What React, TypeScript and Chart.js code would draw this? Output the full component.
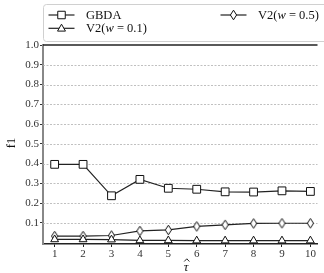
import React, { useEffect, useRef } from 'react';
import { Chart, registerables } from 'chart.js';
Chart.register(...registerables);

const tauHat = [1, 2, 3, 4, 5, 6, 7, 8, 9, 10];
const gbda = [0.396, 0.396, 0.237, 0.32, 0.275, 0.27, 0.257, 0.256, 0.262, 0.259];
const v2w01 = [0.016, 0.016, 0.015, 0.011, 0.011, 0.01, 0.01, 0.01, 0.01, 0.01];
const v2w05 = [0.033, 0.033, 0.036, 0.059, 0.064, 0.082, 0.09, 0.097, 0.098, 0.098];
const yTicks = [0.1, 0.2, 0.3, 0.4, 0.5, 0.6, 0.7, 0.8, 0.9, 1.0];
const xTicks = [1, 2, 3, 4, 5, 6, 7, 8, 9, 10];

const SERIF = '"Liberation Serif", "DejaVu Serif", serif';

function makeDiamond(): HTMLCanvasElement {
  const c = document.createElement('canvas');
  c.width = 9;
  c.height = 12;
  const g = c.getContext('2d')!;
  g.beginPath();
  g.moveTo(4.5, 1.2);
  g.lineTo(7.6, 6);
  g.lineTo(4.5, 10.8);
  g.lineTo(1.4, 6);
  g.closePath();
  g.fillStyle = '#fff';
  g.fill();
  g.lineWidth = 1;
  g.strokeStyle = '#111';
  g.stroke();
  return c;
}

function drawSquare(ctx: CanvasRenderingContext2D, x: number, y: number, s: number) {
  ctx.beginPath();
  ctx.rect(x - s / 2, y - s / 2, s, s);
  ctx.fillStyle = '#fff';
  ctx.fill();
  ctx.stroke();
}
function drawTriangle(ctx: CanvasRenderingContext2D, x: number, y: number, r: number) {
  ctx.beginPath();
  ctx.moveTo(x, y - r);
  ctx.lineTo(x + r * 0.866, y + r * 0.5);
  ctx.lineTo(x - r * 0.866, y + r * 0.5);
  ctx.closePath();
  ctx.fillStyle = '#fff';
  ctx.fill();
  ctx.stroke();
}

function drawLabel(ctx: CanvasRenderingContext2D, parts: [string, boolean][], x: number, y: number) {
  let cx = x;
  for (const [t, it] of parts) {
    ctx.font = `${it ? 'italic ' : ''}12.5px ${SERIF}`;
    ctx.fillText(t, cx, y);
    cx += ctx.measureText(t).width;
  }
}

const overlay = {
  id: 'overlay',
  beforeDatasetsDraw(chart: any) {
    const { ctx, chartArea } = chart;
    const ys = chart.scales.y;
    ctx.save();
    ctx.strokeStyle = '#b0b0b0';
    ctx.lineWidth = 0.8;
    ctx.setLineDash([2, 1.5]);
    for (const v of yTicks) {
      if (v >= 1) continue;
      const py = Math.round(ys.getPixelForValue(v)) + 0.5;
      ctx.beginPath();
      ctx.moveTo(chartArea.left, py);
      ctx.lineTo(chartArea.right, py);
      ctx.stroke();
    }
    ctx.setLineDash([]);
    ctx.strokeStyle = '#222';
    ctx.lineWidth = 1.6;
    const top = ys.getPixelForValue(1.0);
    ctx.beginPath();
    ctx.moveTo(chartArea.left, top);
    ctx.lineTo(chartArea.right, top);
    ctx.stroke();
    ctx.restore();
  },
  afterDraw(chart: any) {
    const { ctx } = chart;
    ctx.save();
    // legend box
    ctx.beginPath();
    const bx = 43.5, by = 4.5, bw = 300, bh = 37;
    const r = 3;
    ctx.moveTo(bx + r, by);
    ctx.lineTo(bx + bw, by);
    ctx.lineTo(bx + bw, by + bh);
    ctx.lineTo(bx + r, by + bh);
    ctx.arcTo(bx, by + bh, bx, by + bh - r, r);
    ctx.lineTo(bx, by + r);
    ctx.arcTo(bx, by, bx + r, by, r);
    ctx.closePath();
    ctx.fillStyle = 'rgba(255,255,255,0.85)';
    ctx.fill();
    ctx.strokeStyle = '#d0d0d0';
    ctx.lineWidth = 1;
    ctx.stroke();

    const entries = [
      { x0: 48.5, x1: 74.5, y: 15, kind: 'rect', parts: [['GBDA', false]] as [string, boolean][] },
      { x0: 48.5, x1: 74.5, y: 28.3, kind: 'tri', parts: [['V2(', false], ['w', true], [' = 0.1)', false]] as [string, boolean][] },
      { x0: 220.5, x1: 246.5, y: 15, kind: 'dia', parts: [['V2(', false], ['w', true], [' = 0.5)', false]] as [string, boolean][] },
    ];
    for (const e of entries) {
      ctx.strokeStyle = '#222';
      ctx.lineWidth = 1.2;
      ctx.beginPath();
      ctx.moveTo(e.x0, e.y);
      ctx.lineTo(e.x1, e.y);
      ctx.stroke();
      const mx = (e.x0 + e.x1) / 2;
      ctx.lineWidth = 1;
      ctx.strokeStyle = '#111';
      if (e.kind === 'rect') drawSquare(ctx, mx, e.y, 7.5);
      else if (e.kind === 'tri') drawTriangle(ctx, mx, e.y + 0.5, 4.6);
      else {
        ctx.beginPath();
        ctx.moveTo(mx, e.y - 4.8);
        ctx.lineTo(mx + 3.1, e.y);
        ctx.lineTo(mx, e.y + 4.8);
        ctx.lineTo(mx - 3.1, e.y);
        ctx.closePath();
        ctx.fillStyle = '#fff';
        ctx.fill();
        ctx.stroke();
      }
      ctx.fillStyle = '#111';
      ctx.textBaseline = 'middle';
      ctx.textAlign = 'left';
      drawLabel(ctx, e.parts, e.x1 + 11.5, e.y + 0.5);
    }

    // x-axis title: tau with hat
    ctx.fillStyle = '#111';
    ctx.textAlign = 'center';
    ctx.textBaseline = 'middle';
    ctx.font = `italic 13px ${SERIF}`;
    ctx.fillText('\u03C4', 186, 267.5);
    ctx.strokeStyle = '#111';
    ctx.lineWidth = 0.9;
    ctx.beginPath();
    ctx.moveTo(184.2, 261.5);
    ctx.lineTo(186.8, 258.8);
    ctx.lineTo(189.4, 261.5);
    ctx.stroke();
    // y-axis title
    ctx.translate(12, 143);
    ctx.rotate(-Math.PI / 2);
    ctx.font = `12.5px ${SERIF}`;
    ctx.fillText('f1', 0, 0);
    ctx.restore();
  },
};

export default function App() {
  const ref = useRef<HTMLCanvasElement>(null);
  useEffect(() => {
    if (!ref.current) return;
    const diamond = makeDiamond();
    const mk = (arr: number[]) => tauHat.map((x, i) => ({ x, y: arr[i] }));
    const tickFont = { family: SERIF, size: 11 };
    const chart = new Chart(ref.current, {
      type: 'line',
      data: {
        datasets: [
          {
            label: 'GBDA',
            data: mk(gbda),
            borderColor: '#222',
            borderWidth: 1.2,
            pointStyle: 'rect',
            pointRadius: 5.5,
            pointBackgroundColor: '#fff',
            pointBorderColor: '#111',
            pointBorderWidth: 1,
            clip: false as any,
          },
          {
            label: 'V2(w = 0.1)',
            data: mk(v2w01),
            borderColor: '#222',
            borderWidth: 1.2,
            pointStyle: 'triangle',
            pointRadius: 4.5,
            pointBackgroundColor: '#fff',
            pointBorderColor: '#111',
            pointBorderWidth: 1,
            clip: false as any,
          },
          {
            label: 'V2(w = 0.5)',
            data: mk(v2w05),
            borderColor: '#222',
            borderWidth: 1.2,
            pointStyle: diamond as any,
            pointBackgroundColor: '#fff',
            pointBorderColor: '#111',
            clip: false as any,
          },
        ],
      },
      options: {
        animation: false,
        responsive: false,
        devicePixelRatio: 1,
        layout: { padding: { top: 45, right: 0, left: 0, bottom: 0 } },
        plugins: { legend: { display: false }, tooltip: { enabled: false } },
        scales: {
          x: {
            type: 'linear',
            min: 0.59,
            max: 10.25,
            afterBuildTicks: (s: any) => {
              s.ticks = xTicks.map((v) => ({ value: v }));
            },
            afterFit: (s: any) => {
              s.height = 29;
            },
            grid: { drawOnChartArea: false, drawTicks: true, tickLength: 3, color: '#222' },
            border: { color: '#222', width: 1.5 },
            ticks: { font: tickFont, color: '#333', padding: 1, maxRotation: 0, autoSkip: false },
          },
          y: {
            type: 'linear',
            min: -0.007,
            max: 1.0,
            afterBuildTicks: (s: any) => {
              s.ticks = yTicks.map((v) => ({ value: v }));
            },
            afterFit: (s: any) => {
              s.width = 43;
            },
            grid: { drawOnChartArea: false, drawTicks: true, tickLength: 3, color: '#333' },
            border: { color: '#888', width: 2 },
            ticks: {
              font: tickFont,
              color: '#333',
              padding: 1,
              callback: (v: any) => Number(v).toFixed(1),
            },
          },
        },
      },
      plugins: [overlay],
    });
    return () => chart.destroy();
  }, []);
  return (
    <div style={{ position: 'fixed', left: 0, top: 0, width: 324, height: 273, background: '#fff' }}>
      <canvas ref={ref} width={324} height={273} style={{ display: 'block' }} />
    </div>
  );
}
